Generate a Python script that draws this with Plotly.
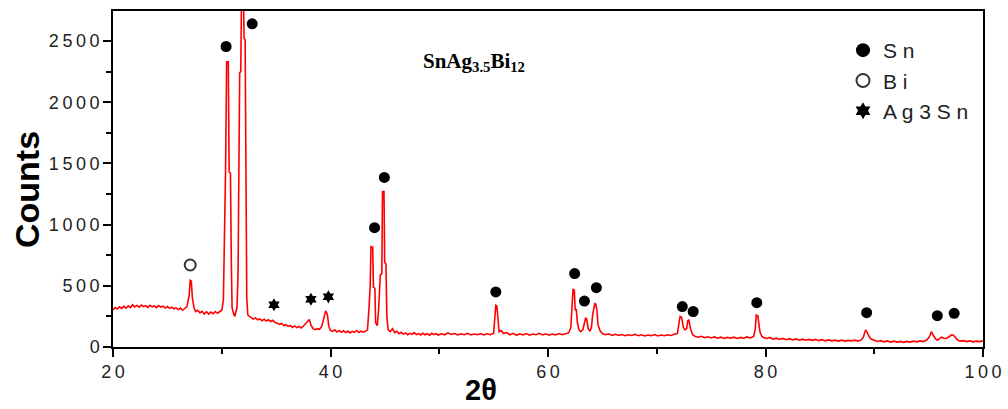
import plotly.graph_objects as go

# ---- data ----
two_theta = [
    20.0, 20.2, 20.4, 20.6, 20.8, 21.0, 21.2, 21.4, 21.6, 21.8, 22.0, 22.2, 22.4, 22.6, 22.8,
    23.0, 23.2, 23.4, 23.6, 23.8, 24.0, 24.2, 24.4, 24.6, 24.8, 25.0, 25.2, 25.4, 25.6, 25.8,
    26.0, 26.2, 26.4, 26.6, 26.8, 27.0, 27.1, 27.2, 27.3, 27.45, 27.6, 27.8, 28.0, 28.2, 28.4,
    28.6, 28.8, 29.0, 29.2, 29.4, 29.6, 29.8, 30.0, 30.15, 30.25, 30.35, 30.45, 30.6, 30.68, 30.8,
    30.88, 30.95, 31.1, 31.2, 31.3, 31.4, 31.5, 31.58, 31.65, 31.75, 31.82, 32.0, 32.05, 32.15, 32.22,
    32.3, 32.4, 32.55, 32.7, 32.9, 33.1, 33.3, 33.5, 33.7, 33.9, 34.1, 34.3, 34.5, 34.7, 34.9,
    35.1, 35.3, 35.5, 35.7, 35.9, 36.1, 36.3, 36.5, 36.7, 36.9, 37.1, 37.3, 37.5, 37.7, 37.9,
    38.05, 38.2, 38.4, 38.6, 38.8, 39.0, 39.2, 39.4, 39.55, 39.7, 39.85, 40.0, 40.2, 40.4, 40.6,
    40.8, 41.0, 41.2, 41.4, 41.6, 41.8, 42.0, 42.2, 42.4, 42.6, 42.8, 43.0, 43.2, 43.4, 43.55,
    43.65, 43.72, 43.88, 43.95, 44.08, 44.15, 44.3, 44.42, 44.5, 44.58, 44.72, 44.78, 44.92, 44.98, 45.1,
    45.18, 45.3, 45.5, 45.7, 45.9, 46.1, 46.3, 46.5, 46.7, 46.9, 47.1, 47.3, 47.5, 47.7, 47.9,
    48.1, 48.3, 48.5, 48.7, 48.9, 49.1, 49.3, 49.5, 49.7, 49.9, 50.2, 50.5, 50.8, 51.1, 51.4,
    51.7, 52.0, 52.3, 52.6, 52.9, 53.2, 53.5, 53.8, 54.1, 54.4, 54.7, 55.0, 55.12, 55.2, 55.3,
    55.38, 55.5, 55.7, 55.9, 56.2, 56.5, 56.8, 57.1, 57.4, 57.7, 58.0, 58.3, 58.6, 58.9, 59.2,
    59.5, 59.8, 60.1, 60.4, 60.7, 61.0, 61.3, 61.6, 61.9, 62.1, 62.2, 62.3, 62.42, 62.5, 62.6,
    62.7, 62.85, 63.0, 63.2, 63.35, 63.45, 63.55, 63.7, 63.85, 64.0, 64.1, 64.2, 64.3, 64.4, 64.5,
    64.6, 64.8, 65.0, 65.3, 65.6, 65.9, 66.2, 66.5, 66.8, 67.1, 67.4, 67.7, 68.0, 68.3, 68.6,
    68.9, 69.2, 69.5, 69.8, 70.1, 70.4, 70.7, 71.0, 71.3, 71.6, 71.9, 72.05, 72.15, 72.3, 72.45,
    72.6, 72.75, 72.85, 72.95, 73.1, 73.3, 73.5, 73.8, 74.1, 74.4, 74.7, 75.0, 75.3, 75.6, 75.9,
    76.2, 76.5, 76.8, 77.1, 77.4, 77.7, 78.0, 78.3, 78.6, 78.9, 79.05, 79.15, 79.3, 79.4, 79.5,
    79.65, 79.8, 80.1, 80.4, 80.7, 81.0, 81.3, 81.6, 81.9, 82.2, 82.5, 82.8, 83.1, 83.4, 83.7,
    84.0, 84.3, 84.6, 84.9, 85.2, 85.5, 85.8, 86.1, 86.4, 86.7, 87.0, 87.3, 87.6, 87.9, 88.2,
    88.5, 88.8, 89.0, 89.1, 89.2, 89.35, 89.5, 89.7, 90.0, 90.3, 90.6, 90.9, 91.2, 91.5, 91.8,
    92.1, 92.4, 92.7, 93.0, 93.3, 93.6, 93.9, 94.2, 94.5, 94.8, 95.0, 95.15, 95.25, 95.4, 95.6,
    95.8, 96.0, 96.2, 96.4, 96.6, 96.8, 97.0, 97.15, 97.3, 97.5, 97.7, 97.9, 98.2, 98.5, 98.8,
    99.1, 99.4, 99.7, 100.0,
]
counts = [
    305, 322, 310, 328, 315, 332, 318, 335, 322, 345, 328, 340, 325, 342, 330,
    338, 324, 340, 328, 336, 322, 338, 326, 334, 318, 330, 316, 326, 312, 320,
    306, 318, 300, 312, 330, 420, 545, 540, 400, 320, 290, 300, 278, 292, 270,
    288, 268, 285, 272, 290, 275, 288, 300, 380, 800, 1440, 2330, 2330, 1430, 1420,
    700, 320, 270, 250, 290, 320, 600, 1200, 2240, 2250, 2900, 2900, 2520, 2510, 1200,
    400, 260, 250, 240, 228, 238, 222, 230, 215, 226, 212, 222, 208, 218, 200,
    195, 185, 192, 175, 182, 168, 176, 160, 172, 158, 168, 155, 170, 190, 215,
    225, 180, 150, 142, 150, 145, 170, 240, 295, 270, 170, 135, 128, 140, 122,
    135, 120, 132, 118, 130, 115, 128, 120, 135, 118, 130, 122, 128, 140, 330,
    500, 820, 815, 490, 480, 200, 175, 300, 480, 590, 600, 1270, 1270, 690, 680,
    250, 140, 125, 150, 118, 128, 108, 120, 105, 115, 100, 112, 104, 118, 102,
    110, 98, 112, 100, 108, 96, 112, 102, 110, 98, 108, 100, 116, 102, 110,
    98, 108, 100, 112, 98, 106, 100, 110, 98, 108, 100, 112, 230, 340, 335,
    220, 125, 135, 110, 118, 100, 112, 96, 108, 98, 110, 96, 106, 100, 112,
    98, 108, 96, 106, 98, 110, 100, 108, 115, 160, 300, 470, 465, 300, 310,
    200, 140, 125, 140, 200, 235, 230, 150, 130, 160, 260, 300, 355, 350, 300,
    180, 130, 110, 100, 108, 95, 104, 94, 102, 92, 100, 94, 104, 92, 100,
    90, 98, 92, 102, 90, 98, 92, 100, 94, 104, 110, 200, 250, 240, 160,
    140, 150, 215, 220, 150, 100, 88, 80, 88, 76, 84, 74, 82, 72, 80,
    70, 78, 72, 80, 70, 78, 72, 82, 74, 85, 140, 260, 255, 180, 120,
    90, 78, 70, 78, 64, 72, 62, 70, 60, 68, 58, 66, 56, 64, 55,
    62, 54, 62, 52, 60, 50, 58, 50, 56, 48, 56, 48, 54, 50, 56,
    48, 58, 80, 110, 140, 120, 90, 65, 55, 45, 52, 42, 50, 40, 48,
    40, 46, 38, 46, 40, 48, 42, 50, 44, 55, 75, 100, 125, 100, 70,
    55, 65, 80, 72, 70, 80, 90, 100, 95, 70, 55, 48, 52, 44, 50,
    42, 48, 44, 50,
]

# phase markers (position, height of symbol)
sn_x = [30.4, 32.8, 44.05, 44.95, 55.2, 62.45, 63.35, 64.45, 72.35, 73.35, 79.2, 89.3, 95.8, 97.35]
sn_y = [2455, 2640, 975, 1385, 450, 600, 375, 485, 330, 290, 362, 280, 256, 275]
bi_x = [27.1]
bi_y = [670]
ag3sn_x = [34.8, 38.2, 39.8]
ag3sn_y = [345, 390, 410]

x_ticks = [20, 40, 60, 80, 100]
y_ticks = [0, 500, 1000, 1500, 2000, 2500]
legend_names = ["Sn", "Bi", "Ag3Sn"]

THIN = "\u2009"


def spaced(s, sep=THIN):
    return sep.join(str(s))


W, H = 1008, 409
L, R, T, B = 113, 25, 11, 62
pw, ph = W - L - R, H - T - B


def px_to_paper(px, py):
    return (px - L) / pw, (H - B - py) / ph


fig = go.Figure()
fig.add_trace(go.Scatter(x=two_theta, y=counts, mode="lines",
                         line=dict(color="#ff0000", width=1.6), showlegend=False,
                         hoverinfo="skip"))
fig.add_trace(go.Scatter(x=sn_x, y=sn_y, mode="markers", showlegend=False,
                         marker=dict(symbol="circle", size=11, color="black")))
fig.add_trace(go.Scatter(x=bi_x, y=bi_y, mode="markers", showlegend=False,
                         marker=dict(symbol="circle-open", size=11, color="#333333",
                                     line=dict(width=2, color="#333333"))))
fig.add_trace(go.Scatter(x=ag3sn_x, y=ag3sn_y, mode="markers", showlegend=False,
                         marker=dict(symbol="hexagram", size=10, color="black")))

# legend entries
leg_markers = [
    dict(symbol="circle", size=14, color="black"),
    dict(symbol="circle-open", size=13, color="#333333", line=dict(width=2, color="#333333")),
    dict(symbol="hexagram", size=13, color="black"),
]
for i, (name, mk) in enumerate(zip(legend_names, leg_markers)):
    fig.add_trace(go.Scatter(x=[None], y=[None], mode="markers", marker=mk,
                             name=" ".join(name), legendgroup=f"g{i}"))

fig.add_annotation(x=53.15, y=2330, xref="x", yref="y",
                   text="<b>SnAg<sub>3.5</sub>Bi<sub>12</sub></b>", showarrow=False,
                   xanchor="center", yanchor="middle",
                   font=dict(family="Liberation Serif", size=21, color="black"))
cx, cy = px_to_paper(27, 190)
fig.add_annotation(x=cx, y=cy, xref="paper", yref="paper", text="<b>Counts</b>",
                   showarrow=False, textangle=-90, xanchor="center", yanchor="middle",
                   font=dict(family="Liberation Sans", size=34, color="black"))
tx, ty = px_to_paper(481, 390)
fig.add_annotation(x=tx, y=ty, xref="paper", yref="paper", text="<b>2θ</b>",
                   showarrow=False, xanchor="center", yanchor="middle",
                   font=dict(family="Liberation Sans", size=29, color="black"))

tickfont = dict(family="Liberation Sans", size=18, color="#222222")
fig.update_xaxes(range=[20, 100], tickvals=x_ticks, ticktext=[spaced(v) for v in x_ticks],
                 ticks="outside", ticklen=8, tickwidth=1.5, tickcolor="black",
                 minor=dict(dtick=10, tick0=20, ticks="outside", ticklen=5, tickwidth=1.5, tickcolor="black"),
                 showline=True, linecolor="black", linewidth=1.5, mirror=True,
                 showgrid=False, zeroline=False, tickfont=tickfont, automargin=False)
fig.update_yaxes(range=[0, 2745], tickvals=y_ticks, ticktext=[spaced(v) for v in y_ticks],
                 ticks="outside", ticklen=8, tickwidth=1.5, tickcolor="black",
                 minor=dict(dtick=250, tick0=0, ticks="outside", ticklen=5, tickwidth=1.5, tickcolor="black"),
                 showline=True, linecolor="black", linewidth=1.5, mirror=True,
                 showgrid=False, zeroline=False, tickfont=tickfont, automargin=False)

lx, ly = px_to_paper(843, 30)
fig.update_layout(
    template="none",
    width=W, height=H, autosize=False,
    margin=dict(l=L, r=R, t=T, b=B, pad=0),
    paper_bgcolor="white", plot_bgcolor="white",
    legend=dict(x=lx, y=ly, xanchor="left", yanchor="top", bgcolor="rgba(0,0,0,0)",
                font=dict(family="Liberation Sans", size=21, color="#222222"),
                tracegroupgap=0, itemwidth=30),
)

fig.write_html("out.html", config={"displayModeBar": False},
               post_script="document.body.style.margin='0';")
